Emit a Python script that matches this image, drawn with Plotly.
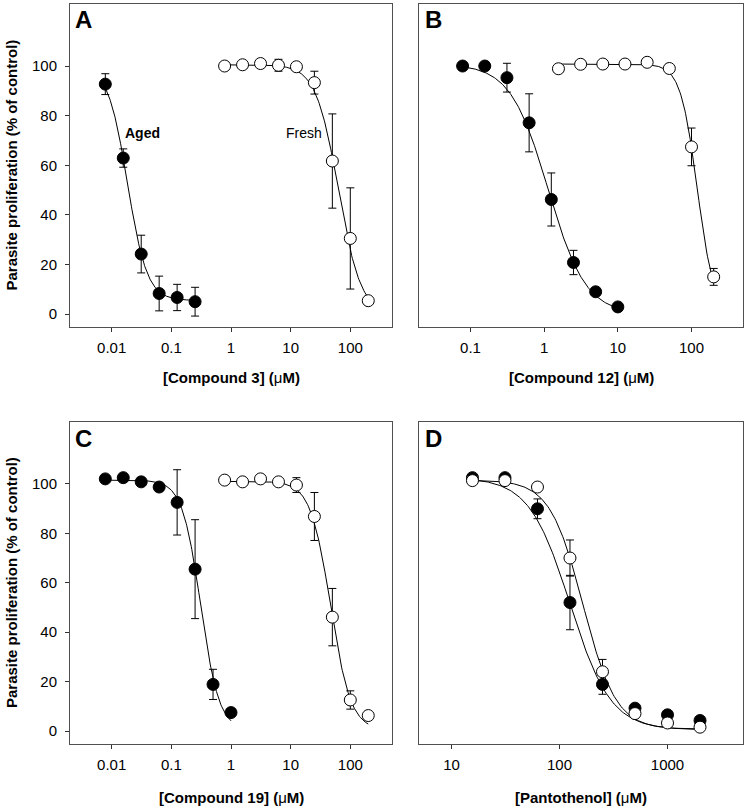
import numpy as np
import plotly.graph_objects as go

# ---------------- data ----------------
# Panel A: Compound 3
a_aged_x = [0.0078125, 0.015625, 0.03125, 0.0625, 0.125, 0.25]
a_aged_y = [92.7, 62.9, 24.2, 8.3, 6.7, 5.0]
a_aged_err = [4.2, 3.7, 7.6, 7.0, 5.3, 5.8]
a_fresh_x = [0.78125, 1.5625, 3.125, 6.25, 12.5, 25, 50, 100, 200]
a_fresh_y = [100.0, 100.5, 101.0, 100.3, 99.7, 93.3, 61.7, 30.5, 5.4]
a_fresh_err = [0, 0, 0, 2.4, 0, 4.6, 19.0, 20.4, 0]

# Panel B: Compound 12
b_aged_x = [0.078125, 0.15625, 0.3125, 0.625, 1.25, 2.5, 5, 10]
b_aged_y = [100.0, 100.0, 95.3, 77.1, 46.2, 20.8, 9.0, 2.9]
b_aged_err = [0, 0, 5.8, 11.7, 10.7, 4.9, 0, 0]
b_fresh_x = [1.5625, 3.125, 6.25, 12.5, 25, 50, 100, 200]
b_fresh_y = [98.9, 100.7, 100.8, 100.8, 101.5, 99.0, 67.4, 15.0]
b_fresh_err = [0, 0, 0, 0, 0, 0, 7.6, 3.4]

# Panel C: Compound 19
c_aged_x = [0.0078125, 0.015625, 0.03125, 0.0625, 0.125, 0.25, 0.5, 1]
c_aged_y = [102.0, 102.5, 100.8, 98.7, 92.5, 65.5, 18.9, 7.5]
c_aged_err = [0, 0, 0, 0, 13.2, 20.0, 6.1, 0]
c_fresh_x = [0.78125, 1.5625, 3.125, 6.25, 12.5, 25, 50, 100, 200]
c_fresh_y = [101.5, 100.8, 102.0, 100.8, 99.5, 86.8, 46.1, 12.6, 6.3]
c_fresh_err = [0, 0, 0, 0, 3.0, 9.7, 11.6, 3.7, 0]

# Panel D: Pantothenol
d_aged_x = [15.625, 31.25, 62.5, 125, 250, 500, 1000, 2000]
d_aged_y = [102.5, 102.5, 89.9, 52.0, 18.9, 9.3, 6.6, 4.3]
d_aged_err = [0, 0, 4.0, 11.0, 4.0, 0, 0, 0]
d_fresh_x = [15.625, 31.25, 62.5, 125, 250, 500, 1000, 2000]
d_fresh_y = [101.3, 101.3, 98.7, 70.0, 24.0, 7.1, 3.3, 1.6]
d_fresh_err = [0, 0, 0, 7.3, 5.0, 0, 0, 0]

# Fitted sigmoid (Hill) parameters: top, bottom, IC50, slope
a_aged_fit = [100.0, 5.5, 0.0184, 2.65]
a_fresh_fit = [100.5, 0.0, 63.0, 2.3]
b_aged_fit = [100.8, 0.0, 1.13, 1.7]
b_fresh_fit = [100.8, 0.0, 120.0, 3.8]
c_aged_fit = [101.5, 0.5, 0.31, 2.8]
c_fresh_fit = [101.0, 0.5, 46.7, 2.56]
d_aged_fit = [102.5, 0.5, 125.0, 2.3]
d_fresh_fit = [101.5, 0.8, 165.0, 2.84]

panel_letters = ["A", "B", "C", "D"]
x_titles = ["[Compound 3] (μM)", "[Compound 12] (μM)",
            "[Compound 19] (μM)", "[Pantothenol] (μM)"]
y_title = "Parasite proliferation (% of control)"
y_ticks = [0, 20, 40, 60, 80, 100]
x_ticks_a = [0.01, 0.1, 1, 10, 100]
x_ticks_b = [0.1, 1, 10, 100]
x_ticks_c = [0.01, 0.1, 1, 10, 100]
x_ticks_d = [10, 100, 1000]

# ---------------- figure ----------------
W, H = 747, 809
FONT = "Liberation Sans, Arial, sans-serif"
fig = go.Figure()


def hill(xs, p):
    top, bot, ic50, n = p
    xs = np.asarray(xs, dtype=float)
    return bot + (top - bot) / (1.0 + (xs / ic50) ** n)


def add_series(ax, xs, ys, errs, fit, filled):
    xr = "x" if ax == 1 else f"x{ax}"
    yr = "y" if ax == 1 else f"y{ax}"
    xc = np.logspace(np.log10(xs[0]), np.log10(xs[-1]), 200)
    fig.add_trace(go.Scatter(x=xc, y=hill(xc, fit), mode="lines",
                             line=dict(color="black", width=1),
                             xaxis=xr, yaxis=yr, showlegend=False,
                             hoverinfo="skip"))
    return dict(x=xs, y=ys, errs=errs, filled=filled, xr=xr, yr=yr)


def add_markers(s):
    fig.add_trace(go.Scatter(
        x=s["x"], y=s["y"], mode="markers",
        marker=dict(size=12, color="black" if s["filled"] else "white",
                    line=dict(color="black", width=1)),
        error_y=dict(type="data", array=s["errs"], visible=True,
                     color="black", thickness=1, width=4),
        xaxis=s["xr"], yaxis=s["yr"], showlegend=False))


series = [
    add_series(1, a_aged_x, a_aged_y, a_aged_err, a_aged_fit, True),
    add_series(1, a_fresh_x, a_fresh_y, a_fresh_err, a_fresh_fit, False),
    add_series(2, b_aged_x, b_aged_y, b_aged_err, b_aged_fit, True),
    add_series(2, b_fresh_x, b_fresh_y, b_fresh_err, b_fresh_fit, False),
    add_series(3, c_aged_x, c_aged_y, c_aged_err, c_aged_fit, True),
    add_series(3, c_fresh_x, c_fresh_y, c_fresh_err, c_fresh_fit, False),
    add_series(4, d_aged_x, d_aged_y, d_aged_err, d_aged_fit, True),
    add_series(4, d_fresh_x, d_fresh_y, d_fresh_err, d_fresh_fit, False),
]
for s in series:
    add_markers(s)

# layout geometry (window pixels)
left_px = [(70, 392), (419, 743)]
top_px = [(4, 327), (422, 744)]


def px2x(p):
    return p / W


def px2y(p):
    return 1 - p / H


def xdom(i):
    a, b = left_px[i]
    return [px2x(a), px2x(b)]


def ydom(j):
    a, b = top_px[j]
    return [px2y(b), px2y(a)]


xranges = [[np.log10(0.002), np.log10(500)], [np.log10(0.02), np.log10(500)],
           [np.log10(0.002), np.log10(500)], [np.log10(5), np.log10(5000)]]
xticks = [x_ticks_a, x_ticks_b, x_ticks_c, x_ticks_d]
axis_common = dict(showline=True, mirror=True, linecolor="#505050",
                   linewidth=1, showgrid=False, zeroline=False,
                   tickfont=dict(family=FONT, size=15, color="black"),
                   tickcolor="#303030")

layout = dict(width=W, height=H, margin=dict(l=0, r=0, t=0, b=0),
              paper_bgcolor="white", plot_bgcolor="white",
              font=dict(family=FONT, color="black"))
for k in range(4):
    col, row = k % 2, k // 2
    suffix = "" if k == 0 else str(k + 1)
    layout["xaxis" + suffix] = dict(
        domain=xdom(col), type="log", range=xranges[k],
        anchor="y" + suffix, tickvals=xticks[k],
        ticktext=[("%g" % v) for v in xticks[k]],
        ticks="outside", ticklen=4, ticklabelstandoff=3, **axis_common)
    ydict = dict(domain=ydom(row), range=[-5.2, 125],
                 anchor="x" + suffix, tickvals=y_ticks, **axis_common)
    if col == 0:
        ydict.update(ticks="outside", ticklen=4, showticklabels=True,
                     ticklabelstandoff=5)
    else:
        ydict.update(ticks="", showticklabels=False)
    layout["yaxis" + suffix] = ydict

fig.update_layout(**layout)

annotations = []
# panel letters
letter_pos = [(73, 20), (423, 20), (73, 438), (423, 438)]
for k, (px, py) in enumerate(letter_pos):
    annotations.append(dict(text="<b>%s</b>" % panel_letters[k],
                            x=px2x(px), y=px2y(py), xref="paper", yref="paper",
                            xanchor="left", yanchor="middle", showarrow=False,
                            font=dict(family=FONT, size=24, color="black")))
# x titles
xt_pos = [((70 + 392) / 2, 378), ((419 + 743) / 2, 378),
          ((70 + 392) / 2, 797), ((419 + 743) / 2, 797)]
for k, (px, py) in enumerate(xt_pos):
    t = x_titles[k].replace("μ", "</b>μ<b>")
    annotations.append(dict(text="<b>" + t + "</b>",
                            x=px2x(px), y=px2y(py), xref="paper", yref="paper",
                            xanchor="center", yanchor="middle", showarrow=False,
                            font=dict(family=FONT, size=15, color="black")))
# y titles
for j in range(2):
    a, b = top_px[j]
    annotations.append(dict(text="<b>" + y_title + "</b>", textangle=-90,
                            x=px2x(11), y=px2y((a + b) / 2),
                            xref="paper", yref="paper",
                            xanchor="center", yanchor="middle", showarrow=False,
                            font=dict(family=FONT, size=15, color="black")))
# series labels in panel A
annotations.append(dict(text="<b>Aged</b>", x=np.log10(0.033), y=73.1,
                        xref="x", yref="y", showarrow=False,
                        font=dict(family=FONT, size=14, color="black")))
annotations.append(dict(text="Fresh", x=np.log10(16.5), y=73.1,
                        xref="x", yref="y", showarrow=False,
                        font=dict(family=FONT, size=14, color="black")))
fig.update_layout(annotations=annotations)

fig.write_html("out.html",
               config={"displayModeBar": False},
               post_script="document.body.style.margin='0';"
                           "document.body.style.overflow='hidden';")
